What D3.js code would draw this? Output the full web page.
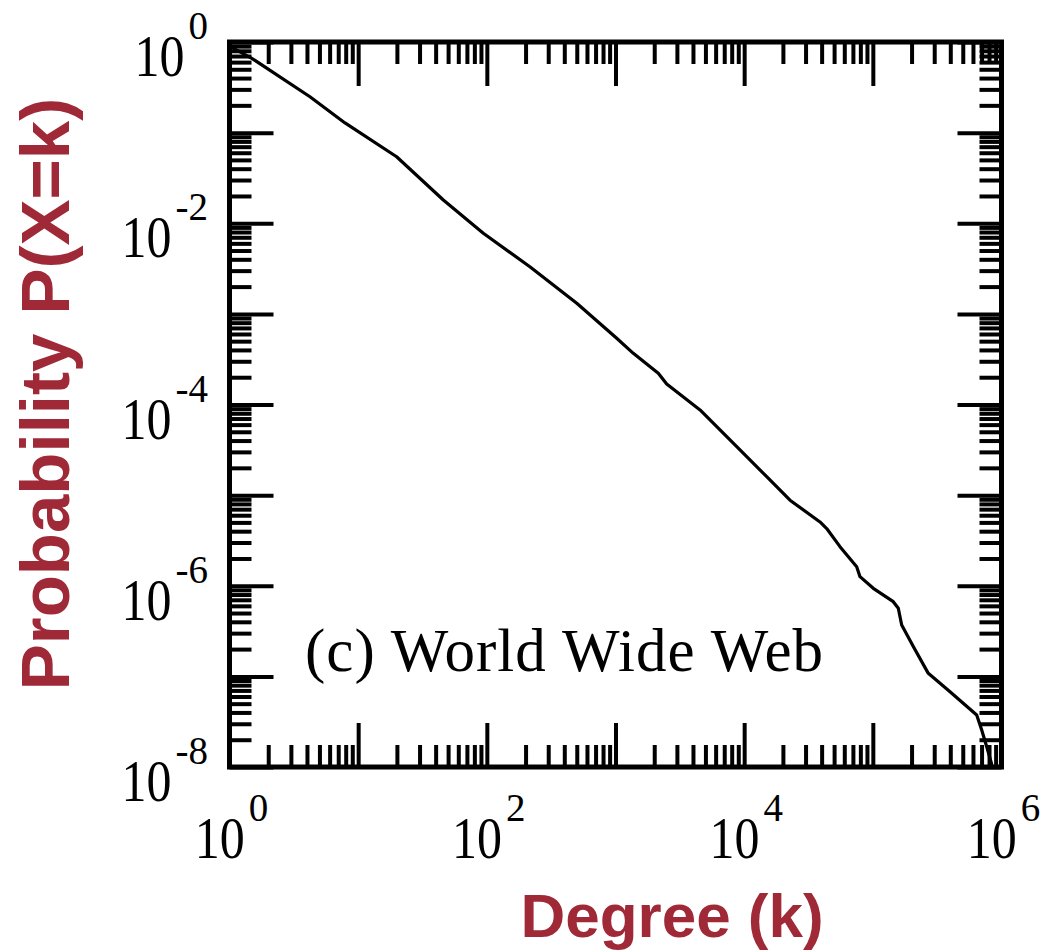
<!DOCTYPE html>
<html>
<head>
<meta charset="utf-8">
<script src="https://cdn.jsdelivr.net/npm/d3@7"></script>
<style>
  body { margin: 0; background: #fff; }
  svg { display: block; }
</style>
</head>
<body>
<div id="chart"></div>
<script>
// degree k and P(X=k)
const degree = [1, 1.49, 4.22, 7.9, 19.9, 45.9, 93.9, 216, 500, 1022, 1375, 2150, 2500,
  4540, 9280, 14970, 22710, 38850, 43800, 55550, 74900, 79470, 100800, 144200,
  157700, 167600, 206300, 269800, 397900, 641500, 701700, 767400, 843000];
const probability = [0.90, 0.661, 0.249, 0.128, 0.0542, 0.01805, 0.00775, 0.003315,
  0.001308, 5.38e-4, 3.67e-4, 2.21e-4, 1.68e-4, 8.7e-5, 3.15e-5, 1.6e-5, 8.78e-6,
  5.06e-6, 4.28e-6, 2.7e-6, 1.62e-6, 1.26e-6, 9.37e-7, 6.67e-7, 5.64e-7, 3.69e-7,
  2.13e-7, 1.08e-7, 6.78e-8, 3.75e-8, 2.56e-8, 1.675e-8, 1.05e-8];

const xLabelExp = ["0", "2", "4", "6"];
const yLabelExp = ["0", "-2", "-4", "-6", "-8"];
const labelText = "(c) World Wide Web";

const width = 1047, height = 950;
const red = "#9f2936";
const serif = "'Liberation Serif', 'Times New Roman', serif";
const sans = "'Liberation Sans', Arial, sans-serif";

const svg = d3.select("#chart").append("svg")
  .attr("width", width)
  .attr("height", height);

const x = d3.scaleLog().domain([1, 1e6]).range([229.5, 1001.5]);
const y = d3.scaleLog().domain([1, 1e-8]).range([42, 767]);

const x0 = x.range()[0], x1 = x.range()[1];
const y0 = y.range()[0], y1 = y.range()[1];

const xMajor = d3.range(0, 7).map(e => Math.pow(10, e));
const yMajor = d3.range(0, 9).map(e => Math.pow(10, -e));
const xMinor = x.ticks().filter(v => !xMajor.some(m => Math.abs(v / m - 1) < 1e-9));
const yMinor = y.ticks().filter(v => !yMajor.some(m => Math.abs(v / m - 1) < 1e-9));

// curve
const line = d3.line()
  .x((d, i) => x(degree[i]))
  .y((d, i) => y(probability[i]));

svg.append("path")
  .datum(degree)
  .attr("d", line)
  .attr("fill", "none")
  .attr("stroke", "#000")
  .attr("stroke-width", 3.2)
  .attr("stroke-linejoin", "round");

// ticks on all four sides, pointing inward
function ticks(axis, tx, ty, vals, size) {
  const g = svg.append("g")
    .attr("transform", `translate(${tx},${ty})`)
    .call(axis.tickValues(vals).tickSize(size).tickFormat(""));
  g.select(".domain").remove();
  g.selectAll(".tick line").attr("stroke", "#000").attr("stroke-width", 4);
}
ticks(d3.axisBottom(x), 0, y1, xMinor, -22);
ticks(d3.axisBottom(x), 0, y1, xMajor, -44);
ticks(d3.axisTop(x), 0, y0, xMinor, -22);
ticks(d3.axisTop(x), 0, y0, xMajor, -44);
ticks(d3.axisLeft(y), x0, 0, yMinor, -22);
ticks(d3.axisLeft(y), x0, 0, yMajor, -44);
ticks(d3.axisRight(y), x1, 0, yMinor, -22);
ticks(d3.axisRight(y), x1, 0, yMajor, -44);

// frame
svg.append("rect")
  .attr("x", x0).attr("y", y0)
  .attr("width", x1 - x0).attr("height", y1 - y0)
  .attr("fill", "none")
  .attr("stroke", "#000")
  .attr("stroke-width", 5);

// power-of-ten label: "10" plus superscript
function powerLabel(g, exp) {
  const base = g.append("text")
    .attr("font-family", serif)
    .attr("font-size", 50)
    .attr("transform", "scale(1,1.2)")
    .text("10");
  const sup = g.append("text")
    .attr("font-family", serif)
    .attr("font-size", 39)
    .attr("y", -37)
    .text(exp);
  const bw = base.node().getComputedTextLength();
  sup.attr("x", bw + 4);
  return bw + 4 + sup.node().getComputedTextLength();
}

xLabelExp.forEach(e => {
  const g = svg.append("g");
  const w = powerLabel(g, e);
  g.attr("transform", `translate(${x(Math.pow(10, +e)) + 2 - w / 2},858)`);
});

yLabelExp.forEach(e => {
  const g = svg.append("g");
  const w = powerLabel(g, e);
  g.attr("transform", `translate(${208 - w},${y(Math.pow(10, +e)) + 34})`);
});

// inset label
svg.append("text")
  .attr("x", 305).attr("y", 671)
  .attr("font-family", serif)
  .attr("font-size", 61)
  .attr("textLength", 518)
  .attr("lengthAdjust", "spacing")
  .text(labelText);

// axis titles
svg.append("text")
  .attr("x", 672).attr("y", 937)
  .attr("text-anchor", "middle")
  .attr("font-family", sans)
  .attr("font-weight", "bold")
  .attr("font-size", 62)
  .attr("fill", red)
  .text("Degree (k)");

svg.append("text")
  .attr("transform", "translate(69,394) rotate(-90)")
  .attr("text-anchor", "middle")
  .attr("font-family", sans)
  .attr("font-weight", "bold")
  .attr("font-size", 69)
  .attr("fill", red)
  .text("Probability P(X=k)");
</script>
</body>
</html>
